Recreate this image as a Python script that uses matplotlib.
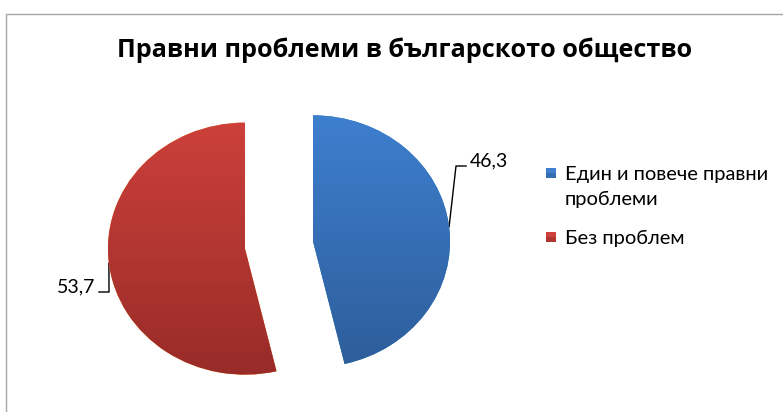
import numpy as np
import matplotlib.pyplot as plt
from matplotlib.patches import Rectangle
from matplotlib.colors import to_rgb

# data
title = "Правни проблеми в българското общество"
categories = ["Един и повече правни\nпроблеми", "Без проблем"]
values = [46.3, 53.7]
value_labels = ["46,3", "53,7"]
colors_top = ["#3e7fcf", "#cf413c"]
colors_bottom = ["#2d5c98", "#982b28"]

plt.rcParams['font.family'] = ['Lato', 'DejaVu Sans']

W, H = 783, 412
fig = plt.figure(figsize=(W / 100, H / 100), dpi=100)
fig.patch.set_facecolor("white")

# pixel overlay for frame, title, labels and legend
bg = fig.add_axes([0, 0, 1, 1])
bg.set_xlim(0, W)
bg.set_ylim(H, 0)
bg.axis("off")
bg.add_patch(Rectangle((5.5, 13.5), W, H, fill=False, ec="#a6a6a6", lw=1))
bg.text(405, 50, title, ha="center", va="center", fontsize=18.2,
        fontweight="bold", family=["Open Sans", "DejaVu Sans"])

# pie axes, slightly stretched horizontally like the original
cx, cy, rx, ry, lim = 279, 245, 137, 126, 1.35
pw, ph = 2 * lim * rx, 2 * lim * ry
pa = fig.add_axes([(cx - pw / 2) / W, (H - cy - ph / 2) / H, pw / W, ph / H])
wedges, _ = pa.pie(values, startangle=90, counterclock=False,
                   explode=[0.25, 0.25], radius=1,
                   wedgeprops=dict(linewidth=0))
grad = np.linspace(0, 1, 256)[:, None, None]
for w, ct, cb in zip(wedges, colors_top, colors_bottom):
    img = (1 - grad) * np.array(to_rgb(ct)) + grad * np.array(to_rgb(cb))
    im = pa.imshow(img, extent=[-lim, lim, -1.05, 1.05], origin="upper",
                   aspect="auto", zorder=2)
    im.set_clip_path(w)
pa.set_xlim(-lim, lim)
pa.set_ylim(-lim, lim)
pa.set_aspect("auto")
pa.axis("off")

# value labels with elbow leader lines
label_pos = [(470, 161, "left"), (95, 287, "right")]
for w, txt, (tx, ty, ha) in zip(wedges, value_labels, label_pos):
    ang = np.deg2rad((w.theta1 + w.theta2) / 2)
    pt = (w.center[0] + w.r * np.cos(ang), w.center[1] + w.r * np.sin(ang))
    disp = pa.transData.transform(pt)
    px, py = bg.transData.inverted().transform(disp)
    ly = ty + 5
    sgn = 1 if ha == "left" else -1
    ex = tx - sgn * 14
    bg.plot([px, ex, tx - sgn * 4], [py, ly, ly], color="black", lw=1)
    bg.text(tx, ty, txt, ha=ha, va="center", fontsize=14)

# legend
leg_y = [173, 237]
for ct, cb, lab, y in zip(colors_top, colors_bottom, categories, leg_y):
    bg.add_patch(Rectangle((546, y - 5), 10, 10, fc=ct, ec="none"))
    bg.add_patch(Rectangle((546, y), 10, 5, fc=cb, ec="none", alpha=0.5))
    bg.text(565, y - 7, lab, ha="left", va="top", fontsize=14.5,
            linespacing=1.55)

fig.savefig("out.png", dpi=100)
